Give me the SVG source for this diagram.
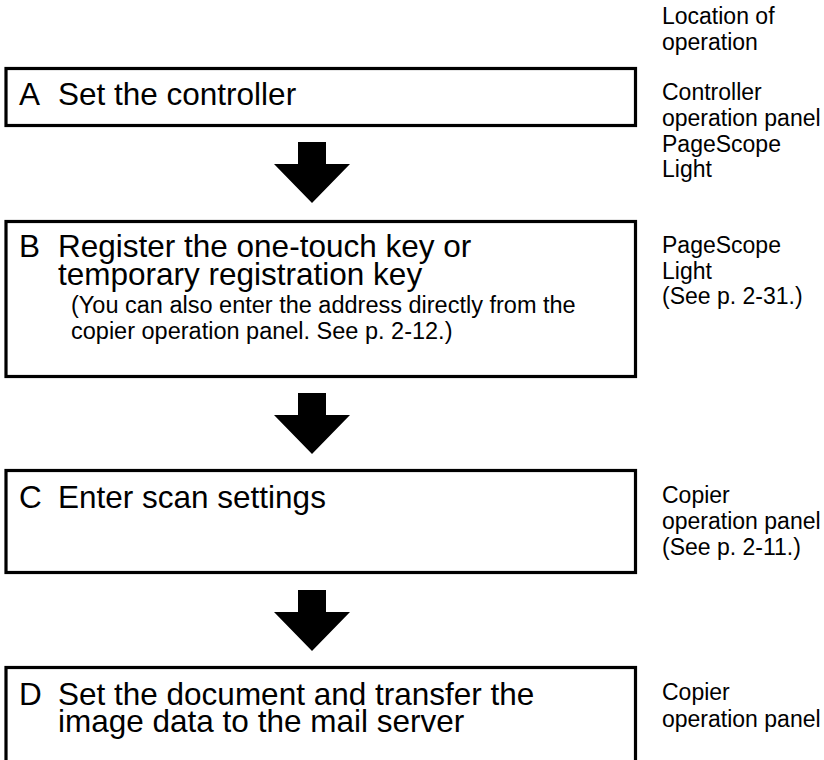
<svg xmlns="http://www.w3.org/2000/svg" width="824" height="760" viewBox="0 0 824 760">
<style>
  .box { fill: #ffffff; stroke: #000000; stroke-width: 3.2; }
  .main { font-family: "Liberation Sans", Arial, sans-serif; font-size: 31.5px; fill: #000000; }
  .small { font-family: "Liberation Sans", Arial, sans-serif; font-size: 23px; fill: #000000; }
  .note { font-family: "Liberation Sans", Arial, sans-serif; font-size: 23.5px; fill: #000000; }
  .arrow { fill: #000000; stroke: none; }
</style>
<defs>
  <path id="bigArrow" d="M -14 0 L 14 0 L 14 22 L 38 22 L 0 61 L -38 22 L -14 22 Z"/>
</defs>
<rect width="824" height="760" fill="#ffffff"/>

<g id="header">
  <text class="small" x="662" y="24">Location of</text>
  <text class="small" x="662" y="50">operation</text>
</g>

<g id="node-A">
  <rect class="box" x="6" y="68.5" width="629.5" height="57"/>
  <text class="main" x="19" y="105">A</text>
  <text class="main" x="58" y="105">Set the controller</text>
</g>
<g id="loc-A">
  <text class="small" x="662" y="100">Controller</text>
  <text class="small" x="662" y="126">operation panel</text>
  <text class="small" x="662" y="152">PageScope</text>
  <text class="small" x="662" y="177">Light</text>
</g>

<g id="node-B">
  <rect class="box" x="6" y="221.5" width="629.5" height="155"/>
  <text class="main" x="19" y="257">B</text>
  <text class="main" x="58" y="257">Register the one-touch key or</text>
  <text class="main" x="58" y="285">temporary registration key</text>
  <text class="note" x="71" y="313">(You can also enter the address directly from the</text>
  <text class="note" x="71" y="339">copier operation panel. See p. 2-12.)</text>
</g>
<g id="loc-B">
  <text class="small" x="662" y="253">PageScope</text>
  <text class="small" x="662" y="278.5">Light</text>
  <text class="small" x="662" y="304">(See p. 2-31.)</text>
</g>

<g id="node-C">
  <rect class="box" x="6" y="470.5" width="629.5" height="102"/>
  <text class="main" x="19" y="508">C</text>
  <text class="main" x="58" y="508">Enter scan settings</text>
</g>
<g id="loc-C">
  <text class="small" x="662" y="503">Copier</text>
  <text class="small" x="662" y="529">operation panel</text>
  <text class="small" x="662" y="555">(See p. 2-11.)</text>
</g>

<g id="node-D">
  <rect class="box" x="6" y="667.5" width="629.5" height="110"/>
  <text class="main" x="19" y="705">D</text>
  <text class="main" x="58" y="705">Set the document and transfer the</text>
  <text class="main" x="58" y="732">image data to the mail server</text>
</g>
<g id="loc-D">
  <text class="small" x="662" y="700">Copier</text>
  <text class="small" x="662" y="726.5">operation panel</text>
</g>

<g id="connectors">
  <use href="#bigArrow" class="arrow" transform="translate(312,142)"/>
  <use href="#bigArrow" class="arrow" transform="translate(312,393)"/>
  <use href="#bigArrow" class="arrow" transform="translate(312,590)"/>
</g>
</svg>
